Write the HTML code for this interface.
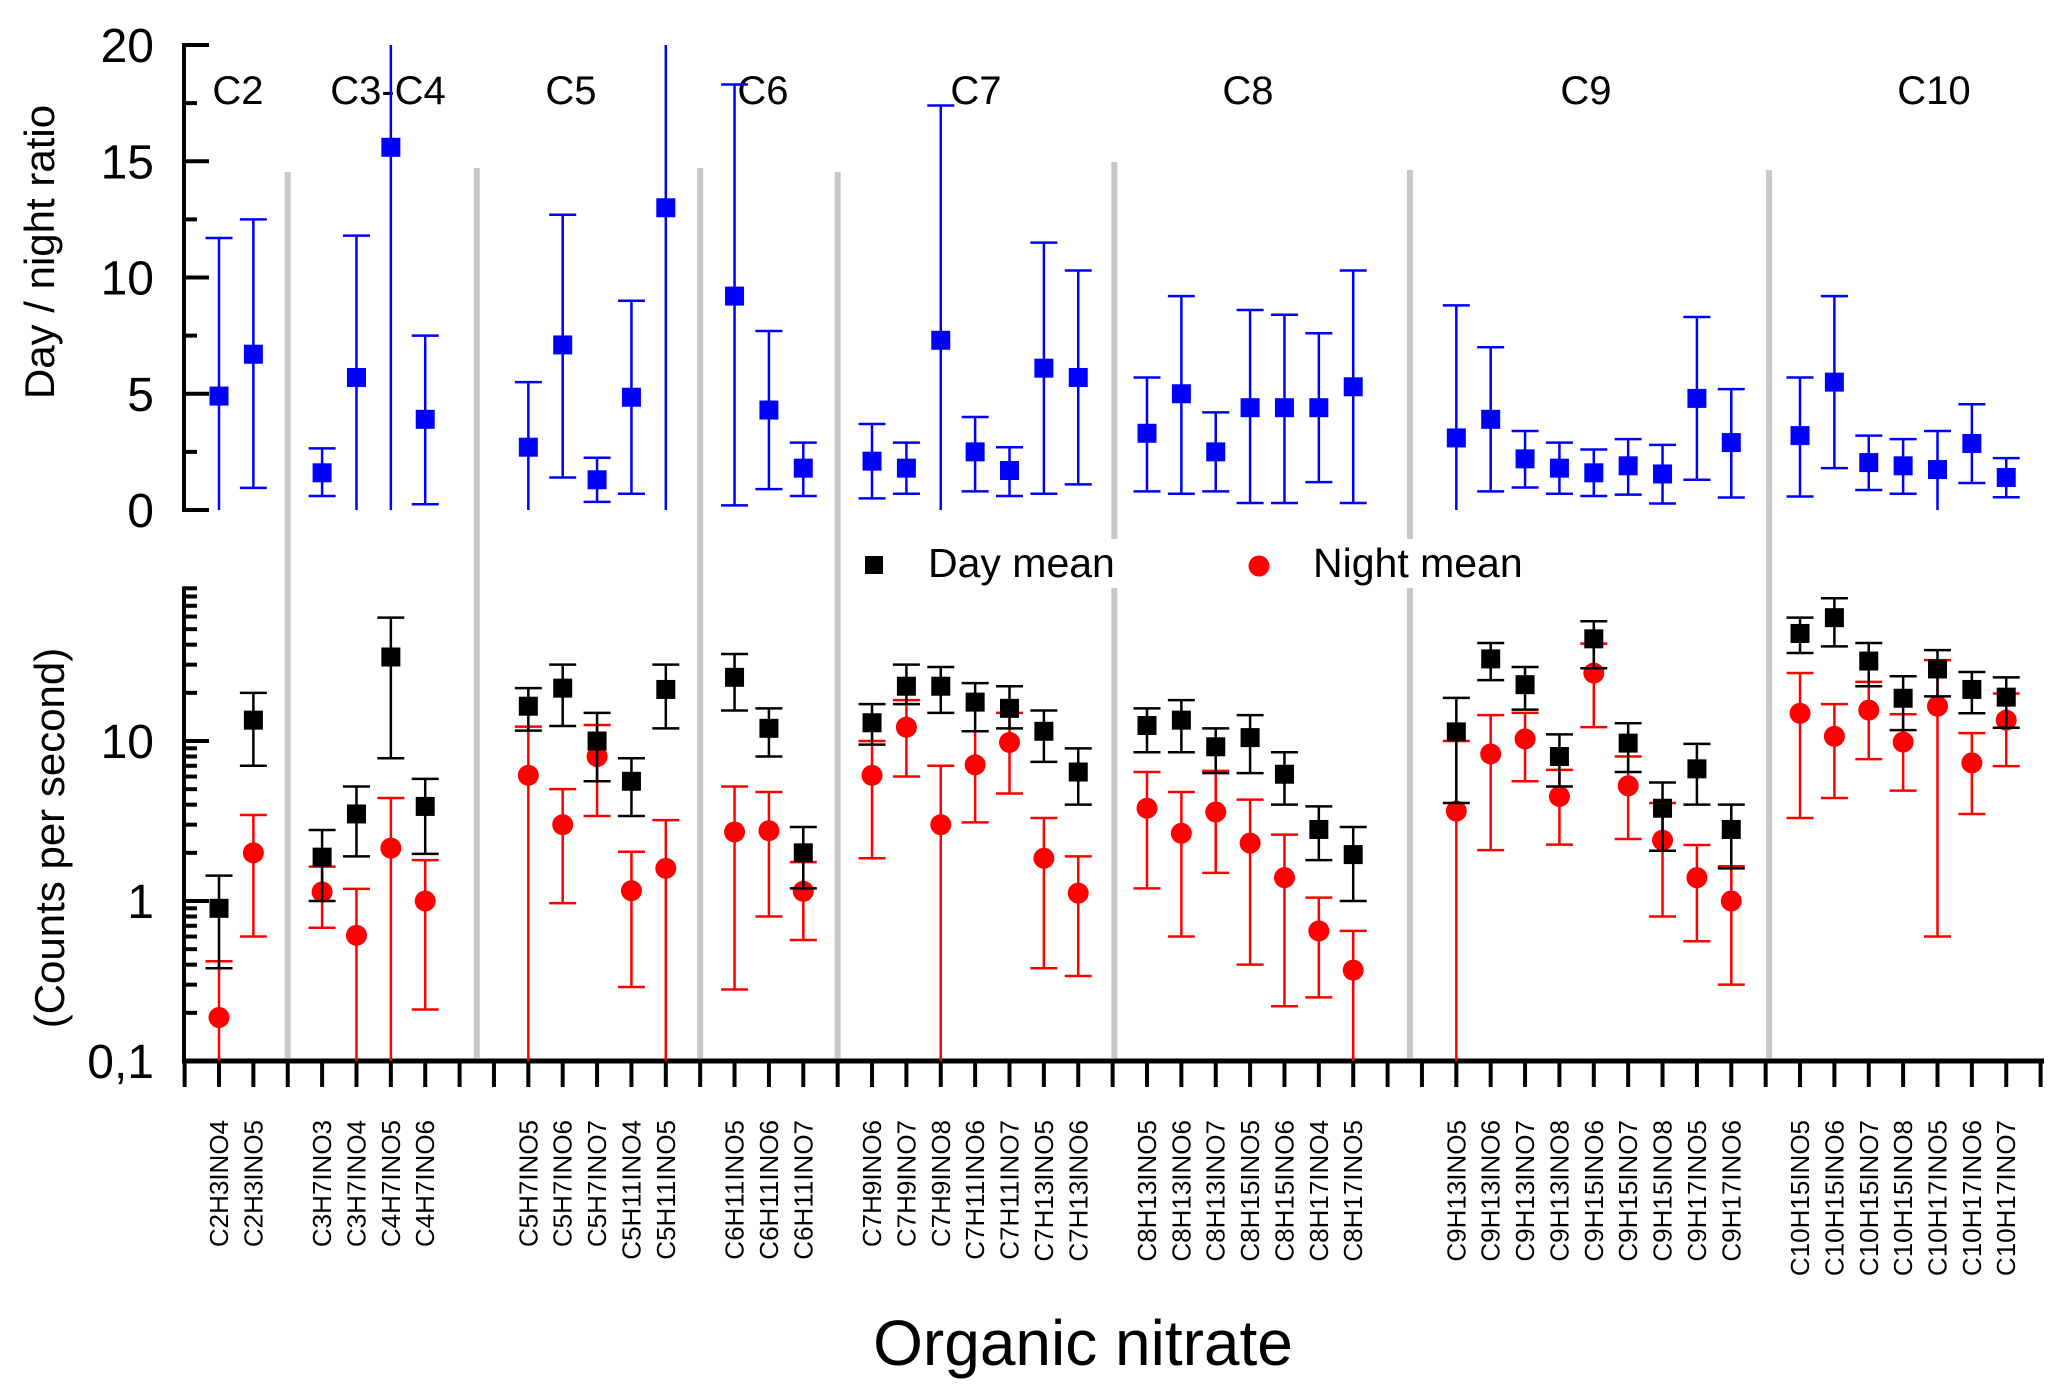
<!DOCTYPE html>
<html><head><meta charset="utf-8"><style>
html,body{margin:0;padding:0;background:#fff;}
svg{display:block;font-family:"Liberation Sans",Arial,sans-serif;}
</style></head><body>
<svg id="chart" width="2067" height="1396" viewBox="0 0 2067 1396" xmlns="http://www.w3.org/2000/svg"></svg>
<script>
// ---- data ----
const categories = ["C2H3INO4","C2H3INO5","C3H7INO3","C3H7INO4","C4H7INO5","C4H7INO6","C5H7INO5","C5H7INO6","C5H7INO7","C5H11INO4","C5H11INO5","C6H11INO5","C6H11INO6","C6H11INO7","C7H9INO6","C7H9INO7","C7H9INO8","C7H11INO6","C7H11INO7","C7H13INO5","C7H13INO6","C8H13INO5","C8H13INO6","C8H13INO7","C8H15INO5","C8H15INO6","C8H17INO4","C8H17INO5","C9H13INO5","C9H13INO6","C9H13INO7","C9H13INO8","C9H15INO6","C9H15INO7","C9H15INO8","C9H17INO5","C9H17INO6","C10H15INO5","C10H15INO6","C10H15INO7","C10H15INO8","C10H17INO5","C10H17INO6","C10H17INO7"];
const slots = [0,1,3,4,5,6,9,10,11,12,13,15,16,17,19,20,21,22,23,24,25,27,28,29,30,31,32,33,36,37,38,39,40,41,42,43,44,46,47,48,49,50,51,52];
const groupNames = ["C2","C3-C4","C5","C6","C7","C8","C9","C10"];
const groupCenters = [238,388,571,763,976,1248,1586,1934];
const separatorSlots = [2,7.5,14,18,26.05,34.65,45.1];
const separatorTops = [172,168,168,172,162,170,170];
const ratio = [4.9,6.7,1.6,5.7,15.6,3.9,2.7,7.1,1.3,4.85,13.0,9.2,4.3,1.8,2.1,1.8,7.3,2.5,1.7,6.1,5.7,3.3,5.0,2.5,4.4,4.4,4.4,5.3,3.1,3.9,2.2,1.8,1.6,1.9,1.55,4.8,2.9,3.2,5.5,2.04,1.9,1.74,2.86,1.4];
const ratioHigh = [11.7,12.5,2.65,11.8,20,7.5,5.5,12.7,2.25,9.0,20,18.3,7.7,2.9,3.7,2.9,17.4,4.0,2.7,11.5,10.3,5.7,9.2,4.2,8.6,8.4,7.6,10.3,8.8,7.0,3.4,2.9,2.6,3.05,2.8,8.3,5.2,5.7,9.2,3.2,3.05,3.4,4.55,2.23];
const ratioLow = [0,0.95,0.6,0,0,0.25,0,1.4,0.35,0.7,0,0.2,0.9,0.6,0.5,0.7,0,0.8,0.6,0.7,1.1,0.8,0.7,0.8,0.3,0.3,1.2,0.3,0,0.8,0.97,0.7,0.6,0.66,0.28,1.3,0.54,0.58,1.8,0.86,0.7,0,1.16,0.55];
const dayMean = [0.9,13.5,1.88,3.5,33.5,3.9,16.5,21.4,10,5.6,21,25,12,2.0,13,22,22,17.5,16,11.5,6.4,12.5,13.5,9.2,10.5,6.2,2.8,1.95,11.4,32.6,22.5,8.0,43.5,9.7,3.8,6.7,2.8,47,59,31.6,18.5,28.2,21,18.8];
const dayHigh = [1.44,20,2.78,5.2,59,5.8,21.4,30,15,7.8,30,35,16,2.9,17,30,29,23,22,15.5,9,16,18,12,14.5,8.5,3.9,2.9,18.6,41,29,11,56,12.9,5.5,9.6,4.0,59,78,41,25.4,37,27,25];
const dayLow = [0.38,7.0,1.0,1.9,7.8,1.97,11.6,12.4,5.6,3.4,12,15.5,8,1.2,9.5,17,15,11.5,12,7.4,4.0,8.5,8.5,6.3,6.3,4.0,1.8,1.0,4.1,24,15.7,5.2,28.5,6.4,2.06,4.0,1.6,35.5,39,22,11.7,19,14.9,12.1];
const nightMean = [0.187,2.0,1.14,0.61,2.14,1.0,6.1,3.0,8.0,1.16,1.6,2.7,2.75,1.15,6.1,12.2,3.0,7.1,9.8,1.85,1.12,3.8,2.65,3.6,2.3,1.4,0.65,0.37,3.65,8.3,10.3,4.5,26.6,5.25,2.4,1.4,1.0,14.9,10.7,15.6,9.85,16.5,7.3,13.5];
const nightHigh = [0.42,3.45,1.64,1.19,4.4,1.8,12.3,5.0,12.6,2.03,3.2,5.2,4.8,1.75,10,18,7,11.5,15,3.3,1.9,6.4,4.8,6.5,4.3,2.6,1.05,0.65,10,14.5,15,6.6,40.6,8.0,4.1,2.24,1.65,26.6,17,23.4,14.7,32,11.2,19.8];
const nightLow = [0.1,0.6,0.68,0.1,0.1,0.21,0.1,0.97,3.4,0.29,0.1,0.28,0.8,0.57,1.85,6,0.1,3.1,4.7,0.38,0.34,1.2,0.6,1.5,0.4,0.22,0.25,0.1,0.1,2.08,5.6,2.25,12.2,2.44,0.8,0.56,0.3,3.3,4.4,7.7,4.9,0.6,3.5,6.97];
const ratioTicks = [0,5,10,15,20];
const logTicks = [0.1,1,10];
const logTickLabels = ["0,1","1","10"];

// ---- axes ----
const X0 = 219, DX = 34.37;
function xs(i){ return X0 + i*DX; }
function yTop(v){ return 510 - v*23.25; }
function yBot(v){ v = Math.max(v,0.1); return 1061 - (Math.log10(v)+1)*160; }

const NS = "http://www.w3.org/2000/svg";
const svg = document.getElementById('chart');
function mk(tag, attrs, parent){
  const e = document.createElementNS(NS, tag);
  for (const k in attrs) e.setAttribute(k, attrs[k]);
  (parent||svg).appendChild(e);
  return e;
}

separatorSlots.forEach((s,k)=>{
  const l = mk('line',{x1:xs(s),x2:xs(s),y1:separatorTops[k],y2:1058,stroke:'#c8c8c8','stroke-width':6});
  
  
});

groupNames.forEach((g,k)=>{
  const t = mk('text',{x:groupCenters[k],y:104,'font-size':40,'text-anchor':'middle',fill:'#000'});
  t.textContent = g;
  
  
});

const ta = mk('g',{});


mk('line',{x1:184,x2:184,y1:yTop(20)-2,y2:yTop(0)+2,stroke:'#000','stroke-width':4},ta);
for(let v=0; v<=20; v+=2.5){
  const major = v%5===0;
  mk('line',{x1:184,x2:major?209:197,y1:yTop(v),y2:yTop(v),stroke:'#000','stroke-width':4},ta);
}
ratioTicks.forEach(v=>{
  const t = mk('text',{x:154,y:yTop(v)+17,'font-size':48,'text-anchor':'end'},ta);
  t.textContent = v;
  
  
});
const yt1 = mk('text',{x:0,y:0,'font-size':42,'text-anchor':'middle',transform:'translate(54,252) rotate(-90)'});
yt1.textContent = 'Day / night ratio';



const ba = mk('g',{});


mk('line',{x1:184,x2:184,y1:yBot(90)-2,y2:1063,stroke:'#000','stroke-width':4},ba);
for(let d=-1; d<=1; d++){
  for(let m=1; m<=9; m++){
    const v = m*Math.pow(10,d);
    if (v<0.1 || v>90) continue;
    mk('line',{x1:184,x2:m===1?209:197,y1:yBot(v),y2:yBot(v),stroke:'#000','stroke-width':4},ba);
  }
}
logTicks.forEach((v,k)=>{
  const t = mk('text',{x:154,y:yBot(v)+17,'font-size':48,'text-anchor':'end'},ba);
  t.textContent = logTickLabels[k];
  
  
});
const yt2 = mk('text',{x:0,y:0,'font-size':42,'text-anchor':'middle',transform:'translate(64,838) rotate(-90)'});
yt2.textContent = '(Counts per second)';



const xa = mk('g',{});


mk('line',{x1:182,x2:2044,y1:1061,y2:1061,stroke:'#000','stroke-width':5},xa);
for(let i=-1;i<=53;i++){
  mk('line',{x1:xs(i),x2:xs(i),y1:1061,y2:1087,stroke:'#000','stroke-width':4},xa);
}
categories.forEach((c,k)=>{
  const x = xs(slots[k]);
  const t = mk('text',{x:0,y:0,'font-size':26,'text-anchor':'end',transform:'translate('+(x+9)+',1120) rotate(-90)'},xa);
  t.textContent = c;
  
  
});
const xt = mk('text',{x:1083,y:1365,'font-size':64,'text-anchor':'middle'});
xt.textContent = 'Organic nitrate';



function errbar(g,x,y1,y2,col,cap1,cap2){
  mk('line',{x1:x,x2:x,y1:y1,y2:y2,stroke:col,'stroke-width':2.5},g);
  if(cap1) mk('line',{x1:x-13.5,x2:x+13.5,y1:y1,y2:y1,stroke:col,'stroke-width':2.5},g);
  if(cap2) mk('line',{x1:x-13.5,x2:x+13.5,y1:y2,y2:y2,stroke:col,'stroke-width':2.5},g);
}

const rs = mk('g',{});


categories.forEach((c,k)=>{
  const x = xs(slots[k]);
  errbar(rs,x,yTop(ratioHigh[k]),yTop(ratioLow[k]),'#0000ff',ratioHigh[k]<20,ratioLow[k]>0.02);
  const r = mk('rect',{x:x-9.5,y:yTop(ratio[k])-9.5,width:19,height:19,fill:'#0000ff'},rs);
  
  
});

const ns = mk('g',{});


categories.forEach((c,k)=>{
  const x = xs(slots[k]);
  errbar(ns,x,yBot(nightHigh[k]),yBot(nightLow[k]),'#ff0000',true,nightLow[k]>0.105);
  const p = mk('ellipse',{cx:x,cy:yBot(nightMean[k]),rx:10.5,ry:10.5,fill:'#ff0000'},ns);
  
  
});
const ds = mk('g',{});


categories.forEach((c,k)=>{
  const x = xs(slots[k]);
  errbar(ds,x,yBot(dayHigh[k]),yBot(dayLow[k]),'#000000',true,true);
  const r = mk('rect',{x:x-9.5,y:yBot(dayMean[k])-9.5,width:19,height:19,fill:'#000'},ds);
  
  
});

const lg = mk('g',{});


mk('rect',{x:850,y:539,width:695,height:49,fill:'#fff'},lg);
const le1 = mk('rect',{x:865,y:556,width:18,height:18,fill:'#000'},lg);


const lt1 = mk('text',{x:928,y:577,'font-size':41},lg);
lt1.textContent = 'Day mean';


const le2 = mk('ellipse',{cx:1259,cy:566,rx:10.5,ry:10.5,fill:'#ff0000'},lg);


const lt2 = mk('text',{x:1313,y:577,'font-size':41},lg);
lt2.textContent = 'Night mean';


</script>
</body></html>
